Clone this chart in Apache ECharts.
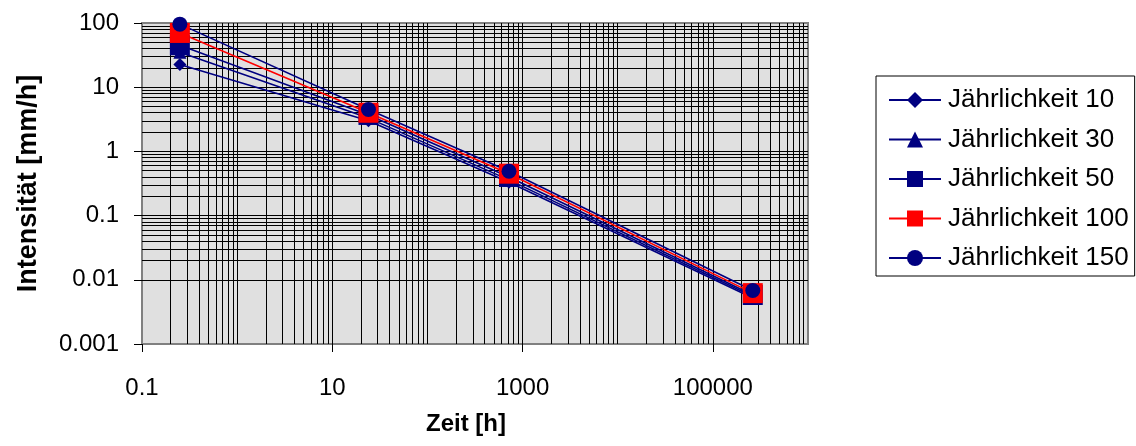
<!DOCTYPE html>
<html><head><meta charset="utf-8">
<script src="https://cdn.jsdelivr.net/npm/echarts@6/dist/echarts.min.js"></script>
<style>html,body{margin:0;padding:0;background:#fff}#c{width:1136px;height:446px}</style>
</head><body><div id="c"></div>
<script>
// ---- data ----
const durations = [0.25, 24, 720, 262800];           // Zeit [h]
const seriesNames = ['Jährlichkeit 10', 'Jährlichkeit 30', 'Jährlichkeit 50', 'Jährlichkeit 100', 'Jährlichkeit 150'];
const j10  = [22.5, 3.0, 0.33, 0.0052];
const j30  = [35,   3.3, 0.36, 0.0055];
const j50  = [45,   3.7, 0.40, 0.0058];
const j100 = [70,   4.0, 0.45, 0.0062];
const j150 = [96,   4.5, 0.49, 0.0068];
const xTickLabels = [0.1, 10, 1000, 100000];
const yTickLabels = [0.001, 0.01, 0.1, 1, 10, 100];
const xName = 'Zeit [h]';
const yName = 'Intensität [mm/h]';

// ---- styles ----
const NAVY = '#000080', RED = '#ff0000';
const FONT = '"Liberation Sans", Arial, sans-serif';
const styles = [
  {color: NAVY, symbol: 'diamond', size: 13},
  {color: NAVY, symbol: 'triangle', size: 13},
  {color: NAVY, symbol: 'rect', size: 20},
  {color: RED,  symbol: 'rect', size: 20},
  {color: NAVY, symbol: 'circle', size: 15}
];
const values = [j10, j30, j50, j100, j150];

// log gridlines (k * 10^n)
function logGrid(minExp, maxExp) {
  const out = [];
  for (let e = minExp; e < maxExp; e++) {
    for (let k = 1; k <= 9; k++) {
      if (e === minExp && k === 1) continue;
      out.push(parseFloat((k * Math.pow(10, e)).toPrecision(6)));
    }
  }
  return out;
}
const xGrid = logGrid(-1, 6);
const yGrid = logGrid(-3, 2);

const fmt = v => String(parseFloat(Number(v).toPrecision(4)));

const series = values.map((vals, i) => {
  const s = {
    name: seriesNames[i],
    type: 'line',
    data: durations.map((d, j) => [d, vals[j]]),
    symbol: styles[i].symbol,
    symbolSize: styles[i].size,
    showAllSymbol: true,
    lineStyle: {color: styles[i].color, width: 1.6},
    itemStyle: {color: styles[i].color, opacity: 1},
    emphasis: {disabled: true},
    animation: false,
    z: 3
  };
  if (i === 0) {
    s.markLine = {
      silent: true, symbol: ['none', 'none'], animation: false, z: 1,
      label: {show: false}, emphasis: {disabled: true},
      lineStyle: {color: '#000', width: 1, type: 'solid'},
      data: xGrid.map(v => ({xAxis: v})).concat(yGrid.map(v => ({yAxis: v})))
    };
  }
  return s;
});

const chart = echarts.init(document.getElementById('c'), null, {renderer: 'canvas'});
chart.setOption({
  animation: false,
  textStyle: {fontFamily: FONT},
  grid: {left: 142, top: 23, width: 666, height: 321, show: true,
         backgroundColor: '#e0e0e0', borderColor: '#808080', borderWidth: 2},
  xAxis: {
    type: 'log', logBase: 10, min: 0.1, max: 1000000,
    name: xName, nameLocation: 'middle', nameGap: 68,
    nameTextStyle: {fontFamily: FONT, fontSize: 24, fontWeight: 'bold', color: '#000', padding: [0, 18, 0, 0]},
    axisLine: {show: true, lineStyle: {color: '#808080', width: 1}},
    axisTick: {show: true, length: 8, customValues: xTickLabels, lineStyle: {color: '#000'}},
    axisLabel: {customValues: xTickLabels, formatter: fmt, margin: 32, fontSize: 24, color: '#000', fontFamily: FONT},
    splitLine: {show: false}, minorTick: {show: false}
  },
  yAxis: {
    type: 'log', logBase: 10, min: 0.001, max: 100,
    name: yName, nameLocation: 'middle', nameGap: 100,
    nameTextStyle: {fontFamily: FONT, fontSize: 27, fontWeight: 'bold', color: '#000'},
    axisLine: {show: true, lineStyle: {color: '#808080', width: 1}},
    axisTick: {show: true, length: 8, customValues: yTickLabels, lineStyle: {color: '#000'}},
    axisLabel: {customValues: yTickLabels, formatter: fmt, margin: 23, fontSize: 24, color: '#000', fontFamily: FONT},
    splitLine: {show: false}, minorTick: {show: false}
  },
  legend: {
    show: true, orient: 'vertical', left: 876, top: 76,
    padding: [10, 6, 4, 12], itemGap: 11.5, itemWidth: 52, itemHeight: 20,
    borderColor: '#000', borderWidth: 1, backgroundColor: '#fff',
    textStyle: {fontSize: 26, lineHeight: 28, color: '#000', fontFamily: FONT, padding: [0, 0, 0, 2]},
    data: seriesNames
  },
  series: series
});
</script></body></html>
